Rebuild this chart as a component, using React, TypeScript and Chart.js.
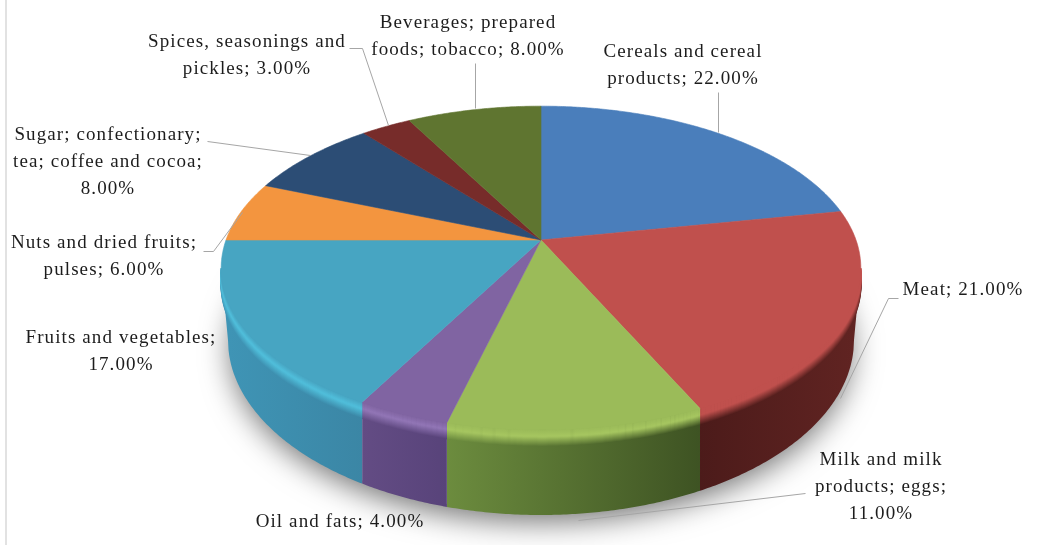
import { useEffect, useRef } from "react";
import { Chart, registerables } from "chart.js";

Chart.register(...registerables);

// Share of each food group, in percent, clockwise from twelve o'clock.
const values = [22, 21, 11, 4, 17, 6, 8, 3, 8];

// Label text per slice; the value is appended to the last line.
const labelLines = [
  ["Cereals and cereal", "products"],
  ["Meat"],
  ["Milk and milk", "products; eggs;", ""],
  ["Oil and fats"],
  ["Fruits and vegetables;", ""],
  ["Nuts and dried fruits;", "pulses"],
  ["Sugar; confectionary;", "tea; coffee and cocoa;", ""],
  ["Spices, seasonings and", "pickles"],
  ["Beverages; prepared", "foods; tobacco"],
];

const topColors = ["#4a7ebb", "#c0504d", "#9bbb59", "#8064a2", "#47a5c2", "#f3953f", "#2c4d75", "#772c2a", "#5f7530"];
const rimColors = ["#4a7ebb", "#c0504d", "#a6c660", "#9276b6", "#50bfdb", "#f3953f", "#2c4d75", "#772c2a", "#5f7530"];
const wallLeft = ["#3a6393", "#4c1b1a", "#6c8c3e", "#634c84", "#3f95b6", "#c07330", "#223c5b", "#5c2221", "#4a5b25"];
const wallRight = ["#3a6393", "#612422", "#3e5323", "#58437a", "#3b86a5", "#c07330", "#223c5b", "#5c2221", "#4a5b25"];

const labelAnchors = [
  [683, 52], [963, 290], [881, 460], [340, 522], [121, 338], [104, 243], [108, 135], [247, 42], [468, 23],
];
const leaderPaths = [
  [[718, 92], [718, 132]],
  [[898, 298], [888, 298], [840, 398]],
  [[805, 493], [578, 520]],
  [],
  [],
  [[203, 251], [213, 251], [242, 212]],
  [[207, 141], [310, 155]],
  [[349, 48], [362, 48], [388, 125]],
  [[475, 63], [475, 108]],
];

// Perspective disc: apex of the slices plus the projected radii and foreshortening.
const apex = { x: 541, y: 240, a: 315, b: 157, p: 0.173 };
// Outline of the underside of the disc.
const base = { x: 541, y: 340, rx: 313, ry: 175 };
const rimDepth = 16;

const project = (t: number) => {
  const x = Math.sin(t);
  const y = -Math.cos(t);
  const d = 1 - apex.p * y;
  return { x: apex.x + (apex.a * x) / d, y: apex.y + (apex.b * y) / d };
};

const lowerEdge = (t: number) => {
  const top = project(t);
  const c = Math.max(-1, Math.min(1, (top.x - base.x) / base.rx));
  return { x: base.x + c * base.rx, y: base.y + base.ry * Math.sqrt(1 - c * c) };
};

const sample = (from: number, to: number) => {
  const n = Math.max(2, Math.ceil((to - from) / 0.008));
  return Array.from({ length: n + 1 }, (_, i) => from + ((to - from) * i) / n);
};

const hex = (c: string) => [1, 3, 5].map((i) => parseInt(c.slice(i, i + 2), 16));
const mix = (a: string, b: string, f: number) => {
  const A = hex(a);
  const B = hex(b);
  return `rgb(${A.map((v, i) => Math.round(v + (B[i] - v) * f)).join(",")})`;
};

const disc3d = {
  id: "disc3d",
  beforeDraw(chart: any) {
    const { ctx, width, height } = chart;
    ctx.save();
    ctx.fillStyle = "#ffffff";
    ctx.fillRect(0, 0, width, height);
    ctx.strokeStyle = "#e2e2e2";
    ctx.lineWidth = 2;
    ctx.beginPath();
    ctx.moveTo(6, 0);
    ctx.lineTo(6, height);
    ctx.stroke();
    ctx.restore();
  },
  beforeDatasetsDraw(chart: any) {
    const { ctx } = chart;
    const arcs = chart.getDatasetMeta(0).data.map((arc: any) => {
      const { startAngle, endAngle } = arc.getProps(["startAngle", "endAngle"], true);
      return { s: startAngle + Math.PI / 2, e: endAngle + Math.PI / 2 };
    });
    const frontFrom = Math.acos(-apex.p);
    const frontTo = 2 * Math.PI - frontFrom;

    ctx.save();

    // Soft contact shadow under the disc.
    ctx.save();
    ctx.shadowColor = "rgba(0,0,0,0.55)";
    ctx.shadowBlur = 30;
    ctx.shadowOffsetY = 10;
    ctx.fillStyle = "#ffffff";
    ctx.beginPath();
    ctx.ellipse(base.x, base.y, base.rx - 3, base.ry - 3, 0, 0, 2 * Math.PI);
    ctx.fill();
    ctx.restore();

    // Outer walls and the rounded rim for the slices facing the viewer.
    arcs.forEach(({ s, e }: any, i: number) => {
      const from = Math.max(s, frontFrom);
      const to = Math.min(e, frontTo);
      if (to <= from) return;
      const angles = sample(from, to);
      const tops = angles.map(project);
      const lows = angles.map(lowerEdge);
      const xs = tops.map((q) => q.x);
      const xL = Math.min(...xs);
      const xR = Math.max(...xs);

      const wall = ctx.createLinearGradient(xL, 0, xR, 0);
      wall.addColorStop(0, wallLeft[i]);
      wall.addColorStop(1, wallRight[i]);
      ctx.fillStyle = wall;
      ctx.beginPath();
      tops.forEach((q, k) => (k ? ctx.lineTo(q.x, q.y) : ctx.moveTo(q.x, q.y)));
      lows.reverse().forEach((q) => ctx.lineTo(q.x, q.y));
      ctx.closePath();
      ctx.fill();

      ctx.lineWidth = 1.6;
      for (let k = rimDepth; k >= 0; k--) {
        const f = k / rimDepth;
        const shade = (wallColor: string) =>
          f < 0.4
            ? mix(topColors[i], rimColors[i], f / 0.4)
            : mix(rimColors[i], wallColor, (f - 0.4) / 0.6);
        const g = ctx.createLinearGradient(xL, 0, xR, 0);
        g.addColorStop(0, shade(wallLeft[i]));
        g.addColorStop(1, shade(wallRight[i]));
        ctx.strokeStyle = g;
        ctx.beginPath();
        tops.forEach((q, n) => (n ? ctx.lineTo(q.x, q.y + k) : ctx.moveTo(q.x, q.y + k)));
        ctx.stroke();
      }
    });

    // Top faces of all slices.
    arcs.forEach(({ s, e }: any, i: number) => {
      ctx.fillStyle = topColors[i];
      ctx.strokeStyle = topColors[i];
      ctx.lineWidth = 0.6;
      ctx.beginPath();
      ctx.moveTo(apex.x, apex.y);
      sample(s, e).forEach((t) => {
        const q = project(t);
        ctx.lineTo(q.x, q.y);
      });
      ctx.closePath();
      ctx.fill();
      ctx.stroke();
    });

    ctx.restore();
    return false;
  },
  afterDraw(chart: any) {
    const { ctx } = chart;
    ctx.save();

    ctx.strokeStyle = "#a6a6a6";
    ctx.lineWidth = 1;
    leaderPaths.forEach((path) => {
      if (!path.length) return;
      ctx.beginPath();
      path.forEach(([x, y], k) => (k ? ctx.lineTo(x + 0.5, y + 0.5) : ctx.moveTo(x + 0.5, y + 0.5)));
      ctx.stroke();
    });

    ctx.fillStyle = "#1c1c1c";
    ctx.font = '19px "Liberation Serif"';
    ctx.letterSpacing = "1.1px";
    ctx.textAlign = "center";
    ctx.textBaseline = "middle";
    labelLines.forEach((lines, i) => {
      const pct = `${values[i].toFixed(2)}%`;
      const [x, y] = labelAnchors[i];
      lines.forEach((line, k) => {
        const last = k === lines.length - 1;
        const text = last ? (line ? `${line}; ${pct}` : pct) : line;
        ctx.fillText(text, x, y + k * 27);
      });
    });
    ctx.restore();
  },
};

export default function App() {
  const ref = useRef<HTMLCanvasElement>(null);

  useEffect(() => {
    const chart = new Chart(ref.current!, {
      type: "pie",
      data: {
        labels: labelLines.map((l) => l.join(" ")),
        datasets: [{ data: values, backgroundColor: topColors, borderWidth: 0 }],
      },
      options: {
        animation: false,
        responsive: false,
        events: [],
        plugins: { legend: { display: false }, tooltip: { enabled: false } },
      },
      plugins: [disc3d],
    });
    return () => chart.destroy();
  }, []);

  return (
    <div style={{ position: "absolute", left: 0, top: 0, width: 1063, height: 545, overflow: "hidden" }}>
      <canvas ref={ref} width={1063} height={545} style={{ display: "block" }} />
    </div>
  );
}
